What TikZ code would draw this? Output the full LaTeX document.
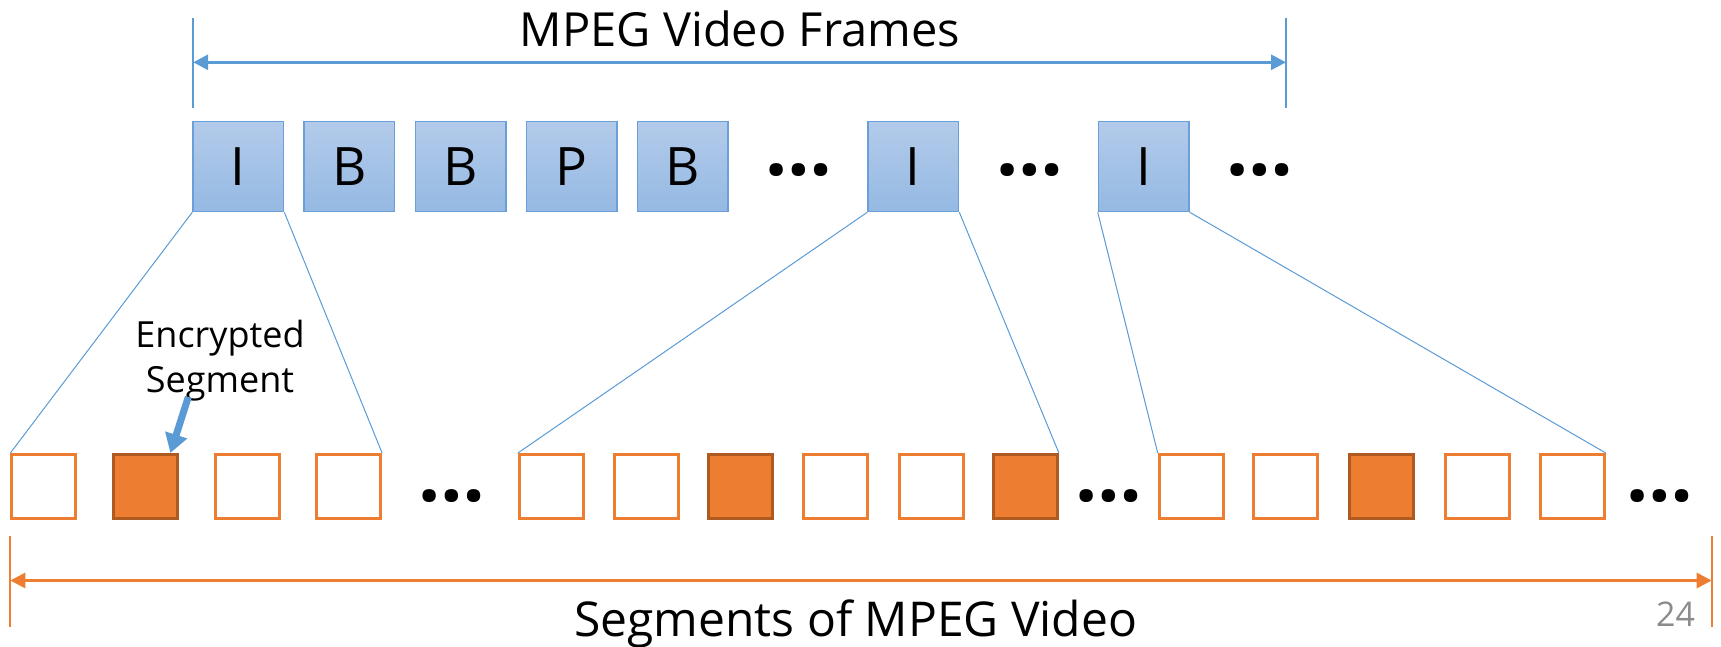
\documentclass[tikz,border=0pt]{standalone}
\usepackage{fontspec}
\setmainfont{Open Sans}
\usetikzlibrary{arrows.meta,calc}
\definecolor{bl}{HTML}{5B9BD5}
\definecolor{blbd}{HTML}{6A9FDA}
\definecolor{bltop}{HTML}{B3CBEA}
\definecolor{blbot}{HTML}{95B9E3}
\definecolor{og}{HTML}{ED7D31}
\definecolor{ogdk}{HTML}{AE5A21}
\definecolor{pg}{HTML}{8C8C8C}
\tikzset{
  frame/.style={draw=blbd, line width=1.5pt, top color=bltop, bottom color=blbot,
    minimum width=90.5pt, minimum height=90pt, inner sep=0pt,
    font=\fontsize{53}{60}\selectfont},
  seg/.style={draw=og, line width=3pt, fill=white, minimum width=64pt, minimum height=64pt, inner sep=0pt},
  encseg/.style={seg, draw=ogdk, fill=og},
  dots/.style={font=\fontsize{78}{80}\selectfont\bfseries, inner sep=0pt},
  link/.style={draw=bl, line width=1pt},
  bdim/.style={draw=bl, line width=3pt, {Triangle[width=15pt,length=15pt]}-{Triangle[width=15pt,length=15pt]}},
  btick/.style={draw=bl, line width=2pt},
  odim/.style={draw=og, line width=3pt, {Triangle[width=15pt,length=15pt]}-{Triangle[width=15pt,length=15pt]}},
  otick/.style={draw=og, line width=2pt},
}
\begin{document}
\begin{tikzpicture}[x=1pt,y=-1pt]
\useasboundingbox (0,0) rectangle (1721,646);
% top frames
\node[frame] (f1) at (238.3,166.5) {I};
\node[frame] (f2) at (349.3,166.5) {B};
\node[frame] (f3) at (460.5,166.5) {B};
\node[frame] (f4) at (571.6,166.5) {P};
\node[frame] (f5) at (682.8,166.5) {B};
\node[dots] (d1) at (799,170.5) {…};
\node[frame] (f6) at (913.3,166.5) {I};
\node[dots] (d2) at (1029.7,170.5) {…};
\node[frame] (f7) at (1143.7,166.5) {I};
\node[dots] (d3) at (1260,170.5) {…};
% bottom segments
\node[seg] (s1) at (43.9,486.5) {};
\node[encseg] (s2) at (145.3,486.5) {};
\node[seg] (s3) at (247.1,486.5) {};
\node[seg] (s4) at (348.6,486.5) {};
\node[dots] (d4) at (451.6,496.5) {…};
\node[seg] (s5) at (551.4,486.5) {};
\node[seg] (s6) at (646.5,486.5) {};
\node[encseg] (s7) at (740.8,486.5) {};
\node[seg] (s8) at (835.9,486.5) {};
\node[seg] (s9) at (931,486.5) {};
\node[encseg] (s10) at (1025.4,486.5) {};
\node[dots] (d5) at (1109,496.5) {…};
\node[seg] (s11) at (1191.2,486.5) {};
\node[seg] (s12) at (1285.6,486.5) {};
\node[encseg] (s13) at (1381.4,486.5) {};
\node[seg] (s14) at (1477.2,486.5) {};
\node[seg] (s15) at (1572.3,486.5) {};
\node[dots] (d6) at (1660,496.5) {…};
% links
\draw[link] (f1.south west) -- (s1.north west);
\draw[link] (f1.south east) -- (s4.north east);
\draw[link] (f6.south west) -- (s5.north west);
\draw[link] (f6.south east) -- (s10.north east);
\draw[link] (f7.south west) -- (s11.north west);
\draw[link] (f7.south east) -- (s15.north east);
% top dimension
\coordinate (ta1) at (193.2,18.3);
\coordinate (ta2) at (193.2,108.3);
\coordinate (tb1) at (1286,18.3);
\coordinate (tb2) at (1286,108.3);
\coordinate (tal) at (193.2,62.3);
\coordinate (tar) at (1286,62.3);
\draw[btick] (ta1) -- (ta2);
\draw[btick] (tb1) -- (tb2);
\draw[bdim] (tal) -- (tar);
\node[anchor=base, inner sep=0pt, font=\fontsize{47}{50}\selectfont] (ttl) at (740,46.7) {MPEG Video Frames};
% bottom dimension
\coordinate (ba1) at (10.3,536);
\coordinate (ba2) at (10.3,626.7);
\coordinate (bb1) at (1711.7,536);
\coordinate (bb2) at (1711.7,626.7);
\coordinate (bal) at (10.3,580.5);
\coordinate (bar) at (1711.7,580.5);
\draw[otick] (ba1) -- (ba2);
\draw[otick] (bb1) -- (bb2);
\draw[odim] (bal) -- (bar);
\node[anchor=base, inner sep=0pt, font=\fontsize{48}{52}\selectfont] (btl) at (855.7,636) {Segments of MPEG Video};
\node[anchor=base, inner sep=0pt, text=pg, font=\fontsize{34}{40}\selectfont] (pn) at (1675.5,626) {24};
% encrypted label
\node[align=center, inner sep=0pt, font=\fontsize{36}{45}\selectfont] (enc) at (220,361) {Encrypted\\Segment};
\coordinate (encs) at (188.3,397);
\draw[draw=bl, line width=7pt, -{Triangle[width=22pt,length=19pt]}] (encs) -- ([xshift=-8.4pt]s2.north east);
\end{tikzpicture}
\end{document}
